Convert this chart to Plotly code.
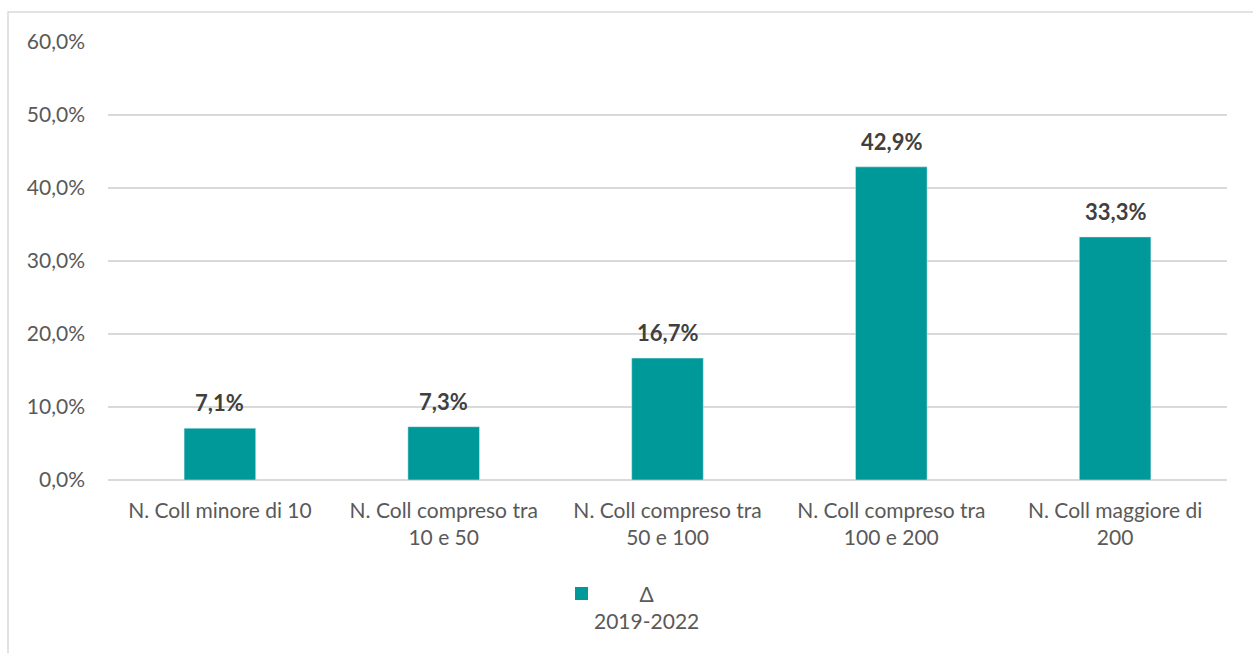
import plotly.graph_objects as go

categories = ["N. Coll minore di 10", "N. Coll compreso tra<br>10 e 50",
              "N. Coll compreso tra<br>50 e 100", "N. Coll compreso tra<br>100 e 200",
              "N. Coll maggiore di<br>200"]
values = [7.1, 7.3, 16.7, 42.9, 33.3]
series_name = "Δ<br>2019-2022"

BAR = "#009999"
GRID = "#d9d9d9"
TXT = "#595959"
FONT = "Lato"
FS = 21

W, H = 1253, 653
L, R, T, B = 108, 26, 42, 173
pw, ph = W - L - R, H - T - B

fig = go.Figure()
fig.add_trace(go.Bar(x=categories, y=[v / 100 for v in values], marker_color=BAR,
                     width=0.32, showlegend=False, name=series_name))

for c, v in zip(categories, values):
    fig.add_annotation(x=c, y=v / 100, text="<b>" + f"{v:.1f}%".replace(".", ",") + "</b>",
                       showarrow=False, yanchor="bottom", yshift=10,
                       font=dict(family=FONT, size=22, color="#404040"))

# legend (manual, centered multi-line label)
fig.add_shape(type="rect", xref="paper", yref="paper",
              x0=(575 - L) / pw, x1=(588 - L) / pw,
              y0=(H - B - 600) / ph, y1=(H - B - 587) / ph,
              fillcolor=BAR, line_width=0)
fig.add_annotation(xref="paper", yref="paper", x=(646 - L) / pw, y=(H - B - 607) / ph,
                   text=series_name, showarrow=False, align="center",
                   xanchor="center", yanchor="middle",
                   font=dict(family=FONT, size=FS, color=TXT))

# outer chart border
fig.add_shape(type="rect", xref="paper", yref="paper",
              x0=(8 - L) / pw, x1=(1260 - L) / pw,
              y0=(H - B - 660) / ph, y1=(H - B - 12) / ph,
              line=dict(color=GRID, width=1.5), fillcolor="rgba(0,0,0,0)", layer="below")

fig.update_layout(
    width=W, height=H, margin=dict(l=L, r=R, t=T, b=B),
    paper_bgcolor="white", plot_bgcolor="white",
    separators=",.",
    font=dict(family=FONT, size=FS, color=TXT),
    bargap=0.68,
    xaxis=dict(showgrid=False, showline=False, ticks="", ticklabelstandoff=16,
               tickfont=dict(size=FS, color=TXT)),
    yaxis=dict(range=[0, 0.6], dtick=0.1, tickformat=".1%", showgrid=True, gridcolor=GRID,
               gridwidth=1.5, zeroline=True, zerolinecolor=GRID, zerolinewidth=1.5,
               showline=False, ticks="", ticklabelstandoff=22,
               tickfont=dict(size=FS, color=TXT)),
)

fig.write_html("out.html")
